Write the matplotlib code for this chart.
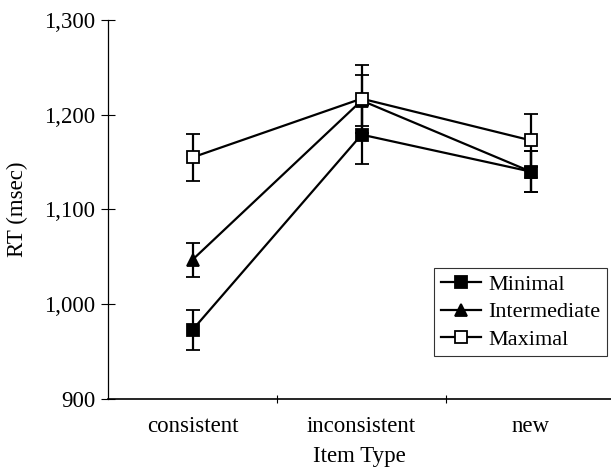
import matplotlib
matplotlib.use("Agg")
import matplotlib.pyplot as plt
from matplotlib.lines import Line2D
import numpy as np

categories = ["consistent", "inconsistent", "new"]
minimal = [973, 1179, 1140]
minimal_err = [21, 31, 22]
intermediate = [1047, 1215, 1140]
intermediate_err = [18, 27, 22]
maximal = [1155, 1217, 1173]
maximal_err = [25, 36, 28]
yticks = [900, 1000, 1100, 1200, 1300]

plt.rcParams['font.family'] = ['Liberation Serif', 'DejaVu Serif']
FS = 16.5

fig = plt.figure(figsize=(6.11, 4.69), dpi=100)
ax = fig.add_axes([108/611, 70/469, (611-108)/611, (399-20)/469])

x = np.arange(len(categories))
series = [
    ("Minimal", minimal, minimal_err, "s", "black"),
    ("Intermediate", intermediate, intermediate_err, "^", "black"),
    ("Maximal", maximal, maximal_err, "s", "white"),
]
handles = []
for name, vals, errs, mk, fc in series:
    ax.errorbar(x, vals, yerr=errs, color="black", lw=1.6, marker=mk,
                markersize=9, markerfacecolor=fc, markeredgecolor="black",
                markeredgewidth=1.3, capsize=5, capthick=1.6, elinewidth=1.6)
    handles.append(Line2D([], [], color="black", lw=1.6, marker=mk, markersize=9,
                          markerfacecolor=fc, markeredgecolor="black",
                          markeredgewidth=1.3, label=name))

ax.set_ylim(900, 1300)
ax.set_xlim(-0.5, 2.475)
ax.set_yticks(yticks)
ax.set_yticklabels([f"{v:,}" for v in yticks], fontsize=FS)
ax.set_xticks(x)
ax.set_xticklabels(categories, fontsize=FS)
ax.tick_params(axis='x', length=0, pad=12)
ax.set_xticks([0.5, 1.5], minor=True)
ax.tick_params(axis='x', which='minor', direction='inout', length=6, width=0.8)
ax.tick_params(axis='y', direction='inout', length=10, width=0.8, pad=4)

for s in ["top", "right"]:
    ax.spines[s].set_visible(False)
ax.spines["left"].set_linewidth(0.9)
ax.spines["bottom"].set_linewidth(1.2)

ax.set_ylabel("RT (msec)", fontsize=FS, labelpad=12)
ax.set_xlabel("Item Type", fontsize=FS, labelpad=7)

leg = ax.legend(handles=handles, loc="upper left",
                bbox_to_anchor=((434-108)/503, (399-268)/379),
                fontsize=FS - 0.5, frameon=True, fancybox=False, edgecolor="black",
                handlelength=1.8, handletextpad=0.35, borderpad=0.3,
                labelspacing=0.3, borderaxespad=0)
leg.get_frame().set_linewidth(0.8)

fig.savefig("out.png", dpi=100)
